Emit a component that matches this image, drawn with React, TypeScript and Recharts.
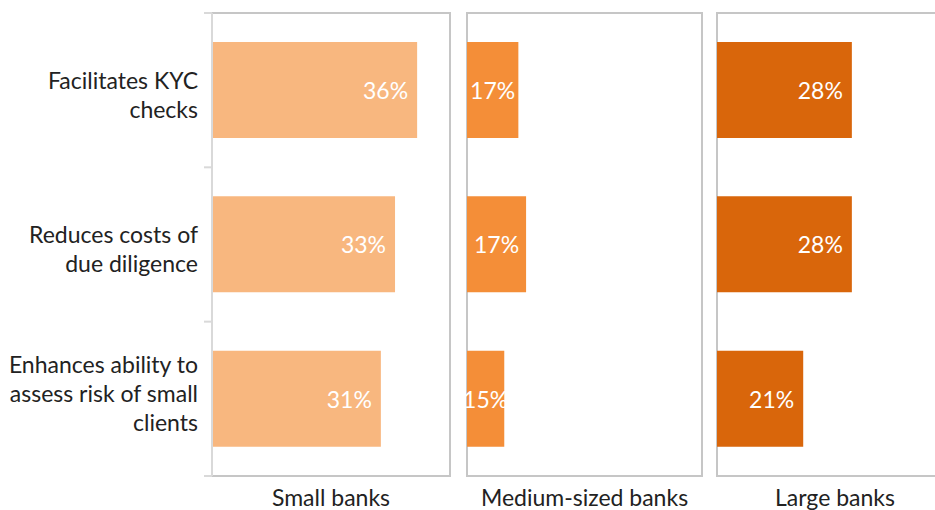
import React from 'react';
import { BarChart, Bar, XAxis, YAxis, LabelList, ReferenceArea } from 'recharts';

// categories (explicit line breaks as in the original)
const categories = [
  'Facilitates KYC\nchecks',
  'Reduces costs of\ndue diligence',
  'Enhances ability to\nassess risk of small\nclients',
];

// bar lengths, plus the printed labels
const smallBanks = [36.2, 32.3, 29.8];
const smallLabels = ['36%', '33%', '31%'];
const mediumBanks = [15.3, 17.6, 11.1];
const mediumLabels = ['17%', '17%', '15%'];
const largeBanks = [28.0, 28.0, 17.9];
const largeLabels = ['28%', '28%', '21%'];

const panelTitles = ['Small banks', 'Medium-sized banks', 'Large banks'];
const panelMax = [42, 70, 49];
const panelColors = ['#F8B77F', '#F48E38', '#D9660B'];

const FONT = 'Lato, "Noto Sans", sans-serif';
const H = 510;
const TOP = 13;
const AXIS_H = 34;
const PLOT_H = H - TOP - AXIS_H;
const BAND = PLOT_H / categories.length;
const PAD = 6;

const toRows = (vals: number[], labels: string[]) =>
  categories.map((c, i) => ({ name: c, value: vals[i], label: labels[i] }));

const CatTick = (props: any) => {
  const { x, y, payload, index } = props;
  const lines = String(payload.value).split('\n');
  const n = lines.length;
  const first = y - 14.5 * (n - 1) + (33 - 10 * n);
  return (
    <g>
      <line x1={x - 8} x2={x} y1={y - BAND / 2} y2={y - BAND / 2} stroke="#D9D9D9" strokeWidth={2} />
      {index === categories.length - 1 && (
        <line x1={x - 8} x2={x} y1={y + BAND / 2} y2={y + BAND / 2} stroke="#D9D9D9" strokeWidth={2} />
      )}
      <text x={x - 14} y={first} textAnchor="end" fontFamily={FONT} fontSize={23} fill="#222">
        {lines.map((l, i) => (
          <tspan key={i} x={x - 14} dy={i === 0 ? 0 : 29}>{l}</tspan>
        ))}
      </text>
    </g>
  );
};

const BarLabel = (props: any) => {
  const { x, y, width, height, value } = props;
  const narrow = width < 70;
  return (
    <text
      x={narrow ? x + width / 2 : x + width - 9}
      y={y + height / 2}
      textAnchor={narrow ? 'middle' : 'end'}
      dominantBaseline="central"
      fontFamily={FONT}
      fontSize={23}
      fill="#fff"
    >
      {value}
    </text>
  );
};

function Panel({ idx, rows, left, width, withAxis }: any) {
  const padLeft = withAxis ? 0 : PAD;
  return (
    <div style={{ position: 'absolute', left: left - padLeft, top: 0 }}>
      <BarChart
        width={width + padLeft}
        height={H}
        data={rows}
        layout="vertical"
        margin={{ top: TOP, right: 2, bottom: 0, left: padLeft }}
      >
        <XAxis
          type="number"
          domain={[0, panelMax[idx]]}
          tick={false}
          tickLine={false}
          axisLine={false}
          height={AXIS_H}
          label={{
            value: panelTitles[idx],
            position: 'insideBottom',
            offset: 4,
            fontSize: 23,
            fontFamily: FONT,
            fill: '#222',
          }}
        />
        {withAxis ? (
          <YAxis
            type="category"
            dataKey="name"
            width={212}
            tickSize={0}
            tickMargin={0}
            tickLine={false}
            axisLine={{ stroke: '#D9D9D9', strokeWidth: 2 }}
            tick={<CatTick />}
          />
        ) : (
          <YAxis type="category" dataKey="name" hide />
        )}
        <Bar dataKey="value" fill={panelColors[idx]} barSize={96} isAnimationActive={false}>
          <LabelList dataKey="label" content={<BarLabel />} />
        </Bar>
        <ReferenceArea
          x1={0}
          x2={panelMax[idx]}
          fill="none"
          fillOpacity={0}
          stroke="#C6C6C6"
          strokeWidth={2}
        />
      </BarChart>
    </div>
  );
}

export default function App() {
  return (
    <div
      style={{
        position: 'absolute',
        left: 0,
        top: 0,
        width: 935,
        height: H,
        overflow: 'hidden',
        background: '#fff',
      }}
    >
      <Panel idx={0} rows={toRows(smallBanks, smallLabels)} left={0} width={452} withAxis />
      <Panel idx={1} rows={toRows(mediumBanks, mediumLabels)} left={467} width={237} />
      <Panel idx={2} rows={toRows(largeBanks, largeLabels)} left={717} width={238} />
    </div>
  );
}
